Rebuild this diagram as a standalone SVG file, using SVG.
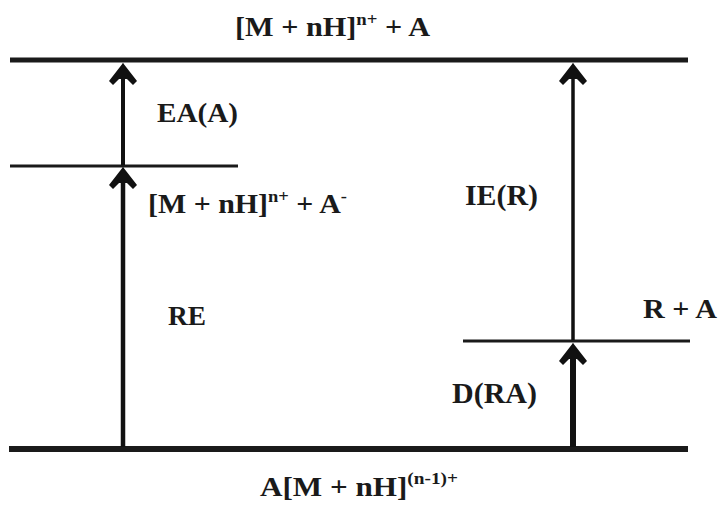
<svg xmlns="http://www.w3.org/2000/svg" width="720" height="505" viewBox="0 0 720 505">
<style>
.lvl{stroke:#1a1a1a;fill:none;stroke-linecap:butt}
.arr{stroke:#111;fill:none}
text{font-family:"Liberation Serif","Times New Roman",serif;font-weight:bold;fill:#1a1a1a}
.sup{font-size:62%}
</style>
<defs>
<marker id="ah" markerUnits="userSpaceOnUse" viewBox="-26 -16 28 32" markerWidth="28" markerHeight="32" refX="-7" refY="0" orient="auto">
<path d="M0,0 L-18,14 L-22,10 L-12,0 L-22,-10 L-18,-14 Z" fill="#111"/>
<path d="M0,0 L-16,6 L-16,-6 Z" fill="#111"/>
</marker>
</defs>
<rect width="720" height="505" fill="#fff"/>
<g id="level-top"><line class="lvl" x1="10" y1="60" x2="688" y2="60" stroke-width="5"/></g>
<g id="level-mid"><line class="lvl" x1="10" y1="166" x2="238" y2="166" stroke-width="3"/></g>
<g id="level-ra"><line class="lvl" x1="463" y1="341" x2="690" y2="341" stroke-width="3"/></g>
<g id="level-bottom"><line class="lvl" x1="9" y1="449" x2="688" y2="449" stroke-width="6"/></g>
<g id="connectors">
<line class="arr" x1="123" y1="447" x2="123" y2="174" stroke-width="4.5" marker-end="url(#ah)"/>
<line class="arr" x1="123" y1="165" x2="123" y2="70" stroke-width="4" marker-end="url(#ah)"/>
<line class="arr" x1="573" y1="340" x2="573" y2="70" stroke-width="3.5" marker-end="url(#ah)"/>
<line class="arr" x1="573" y1="447" x2="573" y2="350" stroke-width="6" marker-end="url(#ah)"/>
</g>
<g id="labels">
<text x="235" y="36" font-size="27" textLength="195" lengthAdjust="spacingAndGlyphs">[M + nH]<tspan class="sup" dy="-11">n+</tspan><tspan dy="11"> + A</tspan></text>
<text x="157" y="122" font-size="28" textLength="81" lengthAdjust="spacingAndGlyphs">EA(A)</text>
<text x="148" y="213" font-size="27" textLength="199" lengthAdjust="spacingAndGlyphs">[M + nH]<tspan class="sup" dy="-11">n+</tspan><tspan dy="11">  +  A</tspan><tspan class="sup" dy="-11">-</tspan></text>
<text x="465" y="205" font-size="29" textLength="73" lengthAdjust="spacingAndGlyphs">IE(R)</text>
<text x="168" y="325" font-size="28" textLength="38" lengthAdjust="spacingAndGlyphs">RE</text>
<text x="643" y="318" font-size="27" textLength="74" lengthAdjust="spacingAndGlyphs">R + A</text>
<text x="452" y="403" font-size="29" textLength="85" lengthAdjust="spacingAndGlyphs">D(RA)</text>
<text x="260" y="496" font-size="27" textLength="198" lengthAdjust="spacingAndGlyphs">A[M + nH]<tspan class="sup" dy="-12">(n-1)+</tspan></text>
</g>
</svg>
